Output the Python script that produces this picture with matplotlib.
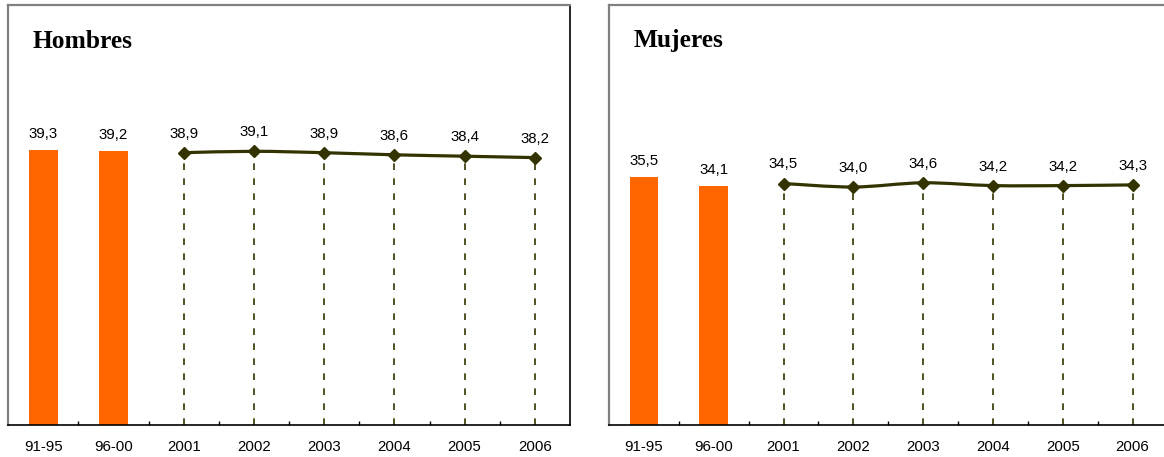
import matplotlib
matplotlib.use("Agg")
import matplotlib.pyplot as plt
from matplotlib.path import Path
from matplotlib.patches import PathPatch
import numpy as np

plt.rcParams['font.family'] = ['Liberation Sans', 'DejaVu Sans']
plt.rcParams['lines.scale_dashes'] = False

categories = ["91-95", "96-00", "2001", "2002", "2003", "2004", "2005", "2006"]
bar_categories = ["91-95", "96-00"]
line_categories = ["2001", "2002", "2003", "2004", "2005", "2006"]

hombres_bars = [39.3, 39.2]
hombres_line = [38.9, 39.1, 38.9, 38.6, 38.4, 38.2]
mujeres_bars = [35.5, 34.1]
mujeres_line = [34.5, 34.0, 34.6, 34.2, 34.2, 34.3]

titles = ["Hombres", "Mujeres"]

BAR_COLOR = "#FF6600"
LINE_COLOR = "#333300"

W, H = 1164, 457
fig = plt.figure(figsize=(W / 100, H / 100), dpi=100)


def smooth_path(xs, ys):
    pts = np.column_stack([xs, ys]).astype(float)
    n = len(pts)
    verts = [pts[0]]
    codes = [Path.MOVETO]
    for i in range(n - 1):
        p_prev = pts[i - 1] if i > 0 else pts[i]
        p0 = pts[i]
        p1 = pts[i + 1]
        p_next = pts[i + 2] if i + 2 < n else pts[i + 1]
        c1 = p0 + (p1 - p_prev) / 6.0
        c2 = p1 - (p_next - p0) / 6.0
        verts += [c1, c2, p1]
        codes += [Path.CURVE4] * 3
    return Path(verts, codes)


def fmt(v):
    return f"{v:.1f}".replace(".", ",")


def panel(left_px, width_px, bars, line, title, right_spine=True):
    ax = fig.add_axes([left_px / W, (H - 425) / H, width_px / W, 420 / H])
    x_all = np.arange(len(categories))
    idx = {c: i for i, c in enumerate(categories)}
    xb = [idx[c] for c in bar_categories]
    xl = [idx[c] for c in line_categories]

    ax.bar(xb, bars, width=0.41, color=BAR_COLOR, zorder=2)
    ax.vlines(xl, 0, line, colors=LINE_COLOR, linewidth=1.2,
              linestyles=[(0, (4.8, 6.0))], zorder=2)
    ax.add_patch(PathPatch(smooth_path(xl, line), fill=False,
                           edgecolor=LINE_COLOR, linewidth=2.3, zorder=3))
    ax.plot(xl, line, linestyle='none', marker='D', markersize=6.2,
            color=LINE_COLOR, zorder=4)

    for x, v in zip(xb, bars):
        ax.annotate(fmt(v), (x, v), xytext=(0, 8.6), textcoords='offset points',
                    ha='center', va='baseline', fontsize=10.8, color='#000000')
    for x, v in zip(xl, line):
        ax.annotate(fmt(v), (x, v), xytext=(0, 10.8), textcoords='offset points',
                    ha='center', va='baseline', fontsize=10.8, color='#000000')

    ax.set_xlim(-0.5, len(categories) - 0.5)
    ax.set_ylim(0, 60)
    ax.set_yticks([])
    ax.set_xticks(x_all)
    ax.set_xticklabels(categories, fontsize=10.8)
    ax.tick_params(axis='x', which='major', length=0, pad=11)
    ax.set_xticks(np.arange(0.5, len(categories) - 1, 1.0), minor=True)
    ax.tick_params(axis='x', which='minor', direction='in', length=3.2,
                   width=1.0, color='black')

    ax.spines['left'].set_color('#808080')
    ax.spines['left'].set_linewidth(1.6)
    ax.spines['top'].set_color('#808080')
    ax.spines['top'].set_linewidth(1.6)
    ax.spines['bottom'].set_color('black')
    ax.spines['bottom'].set_linewidth(1.2)
    ax.spines['right'].set_color('black')
    ax.spines['right'].set_linewidth(1.2)
    ax.spines['right'].set_visible(right_spine)

    ax.text((left_px + 25) / W, 1 - 47.5 / H, title, transform=fig.transFigure,
            fontsize=18.4, fontweight='bold', family=['Liberation Serif', 'DejaVu Serif'],
            ha='left', va='baseline')
    return ax


panel(8, 562, hombres_bars, hombres_line, titles[0])
panel(609, 558.4, mujeres_bars, mujeres_line, titles[1])

fig.savefig("out.png", dpi=100, facecolor='white')
